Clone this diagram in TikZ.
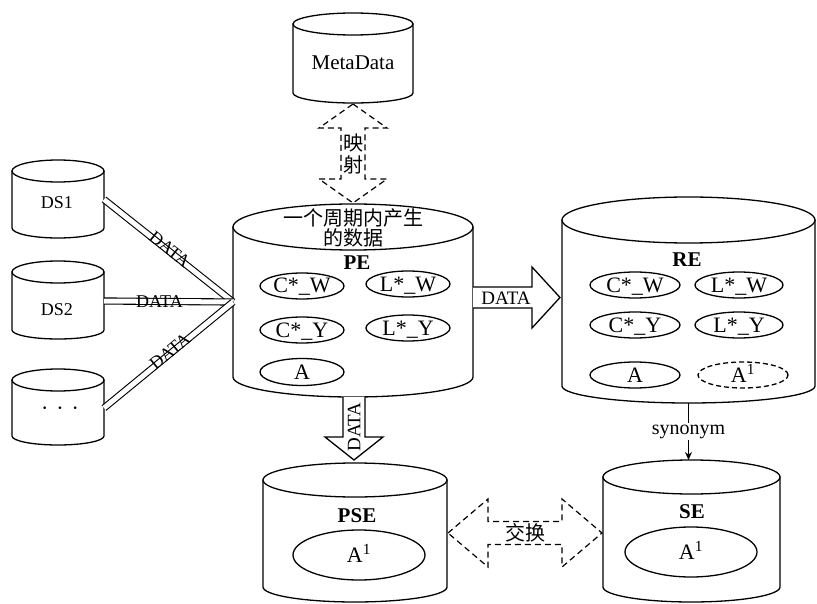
\documentclass[tikz,border=0pt]{standalone}
\usepackage{fontspec}
\setmainfont{Liberation Serif}
\newfontfamily\cjk{Noto Sans CJK SC}
\usetikzlibrary{shapes.geometric,arrows.meta,calc}
% name, cx, rx, top-centre y, top ry, bottom-centre y, bottom ry
\newcommand\mycyl[7]{%
  \pgfmathsetmacro\cylL{#2-#3}%
  \pgfmathsetmacro\cylR{#2+#3}%
  \pgfmathsetmacro\cylM{(#4+#6)/2}%
  \pgfmathsetmacro\cylH{#6-#4}%
  \pgfmathsetmacro\cylW{2*#3}%
  \filldraw[cylline] (\cylL,#4) -- (\cylL,#6)
     arc[start angle=180,end angle=0,x radius=#3,y radius=#7] -- (\cylR,#4) -- cycle;
  \filldraw[cylline] (#2,#4) ellipse[x radius=#3,y radius=#5];
  \node[inner sep=0pt,outer sep=0pt,minimum width=\cylW pt,minimum height=\cylH pt] (#1) at (#2,\cylM) {};
}
\begin{document}
\begin{tikzpicture}[x=1pt,y=-1pt,
  cylline/.style={line width=1.3pt,fill=white},
  txt/.style={inner sep=0pt,font=\fontsize{#1}{#1}\selectfont},
  txt/.default=21,
  ttl/.style={inner sep=0pt,font=\fontsize{21}{21}\selectfont\bfseries},
  cjktxt/.style={inner sep=0pt,align=center,font=\fontsize{20}{20}\selectfont\cjk},
  ell/.style={ellipse,draw,line width=1.3pt,inner sep=0pt,text height=14pt,text depth=0pt,
    font=\fontsize{22}{22}\selectfont},
  blockarrow/.style={draw,fill=white,line width=1.3pt,line join=miter},
  dasharrow/.style={draw,line width=1.2pt,dash pattern=on 6pt off 4pt},
  band/.style={double,double distance=5pt,line width=1.1pt},
]
\useasboundingbox (0,0) rectangle (817,604);

% cylinders
\mycyl{meta}{353}{60}{24}{11}{93}{10}
\mycyl{ds1}{58}{46}{171}{11}{228}{10}
\mycyl{ds2}{58}{46}{272}{11}{330}{9}
\mycyl{ds3}{58}{46}{380}{11}{436}{9}
\mycyl{pe}{353}{120}{227}{23}{377}{20}
\mycyl{re}{688.5}{126.5}{220}{23}{386}{17}
\mycyl{pse}{355}{92}{480}{17}{587}{15}
\mycyl{se}{691.5}{88.5}{477}{17}{587}{15}

% cylinder texts
\node[txt] (metat) at (353,63) {MetaData};
\node[txt=18] (ds1t) at (57,203) {DS1};
\node[txt=18] (ds2t) at (57,310) {DS2};
\node[txt=22] (ds3t) at (60,411) {·\hspace{8pt}·\hspace{8pt}·};
\node[cjktxt] (pet) at (353,228) {一个周期内产生\\的数据};
\node[ttl] (pel) at (357,263) {PE};
\node[ttl] (rel) at (687,260) {RE};
\node[ttl] (psel) at (357,516) {PSE};
\node[ttl] (sel) at (692,512) {SE};

% inner ellipses PE
\node[ell,minimum width=84pt,minimum height=26pt] (pecw) at (302,286) {C*\_W};
\node[ell,minimum width=84pt,minimum height=26pt] (pelw) at (408,284) {L*\_W};
\node[ell,minimum width=84pt,minimum height=26pt] (pecy) at (302,330) {C*\_Y};
\node[ell,minimum width=84pt,minimum height=26pt] (pely) at (408,328) {L*\_Y};
\node[ell,minimum width=84pt,minimum height=27pt] (pea) at (302,372) {A};
% inner ellipses RE
\node[ell,minimum width=90pt,minimum height=26pt] (recw) at (635,285) {C*\_W};
\node[ell,minimum width=88pt,minimum height=26pt] (relw) at (739,285) {L*\_W};
\node[ell,minimum width=90pt,minimum height=26pt] (recy) at (635,325) {C*\_Y};
\node[ell,minimum width=88pt,minimum height=26pt] (rely) at (739,325) {L*\_Y};
\node[ell,minimum width=90pt,minimum height=26pt] (rea) at (635,375) {A};
\node[ell,dash pattern=on 5pt off 3pt,minimum width=90pt,minimum height=26pt] (reai) at (743,375) {A\textsuperscript{1}};
% inner ellipses PSE / SE
\node[ell,minimum width=132pt,minimum height=50pt] (psea) at (359,555) {A\textsuperscript{1}};
\node[ell,minimum width=132pt,minimum height=50pt] (sea) at (691,552) {A\textsuperscript{1}};

% DS -> PE bands
\coordinate (join) at (pe.west);
\draw[band] (ds1.east) -- node[txt=18,sloped,pos=0.5,yshift=2pt] (d1) {DATA} (join);
\draw[band] (ds2.east) -- node[txt=18,pos=0.43] (d2) {DATA} (join);
\draw[band] (ds3.east) -- node[txt=18,sloped,pos=0.52,yshift=2pt] (d3) {DATA} (join);

% PE -> RE block arrow
\coordinate (ara) at (pe.east |- 0,297.5);
\draw[blockarrow] (ara) ++(0,-10.5) -- ++(59,0) -- ++(0,-20) -- ++(28,30.5)
   -- ++(-28,30.5) -- ++(0,-20) -- ++(-59,0);
\node[txt=19] (dr) at (506,298) {DATA};

% PE -> PSE block arrow
\coordinate (ard) at (354,397);
\draw[blockarrow] (ard) ++(-11,0) -- ++(0,40) -- ++(-18,0) -- ++(29,23)
   -- ++(29,-23) -- ++(-18,0) -- ++(0,-40);
\node[txt=19,rotate=90] (dd) at (354,427) {DATA};

% MetaData <-> PE dashed double arrow
\draw[dasharrow] (353,104) -- (387,128) -- (365,128) -- (365,179) -- (387,179)
   -- (353,203) -- (319,179) -- (341,179) -- (341,128) -- (319,128) -- cycle;
\node[cjktxt,font=\fontsize{20}{22}\selectfont\cjk] (ys) at (353,154) {映\\射};

% PSE <-> SE dashed double arrow
\draw[dasharrow] (448,533) -- (488,499) -- (488,521.5) -- (562,521.5) -- (562,499)
   -- (602,533) -- (562,567) -- (562,544.5) -- (488,544.5) -- (488,567) -- cycle;
\node[cjktxt,font=\fontsize{20}{20}\selectfont\cjk] (jh) at (525,533) {交换};

% synonym RE -> SE
\coordinate (setop) at ($(se.north)+(0,-17)$);
\draw[line width=1.2pt,-{Stealth[length=8pt,width=7pt]}]
   ($(re.south)+(0,17)$) -- node[txt=20,fill=white,inner sep=2pt] (syn) {synonym} (re.south |- setop);
\end{tikzpicture}
\end{document}
